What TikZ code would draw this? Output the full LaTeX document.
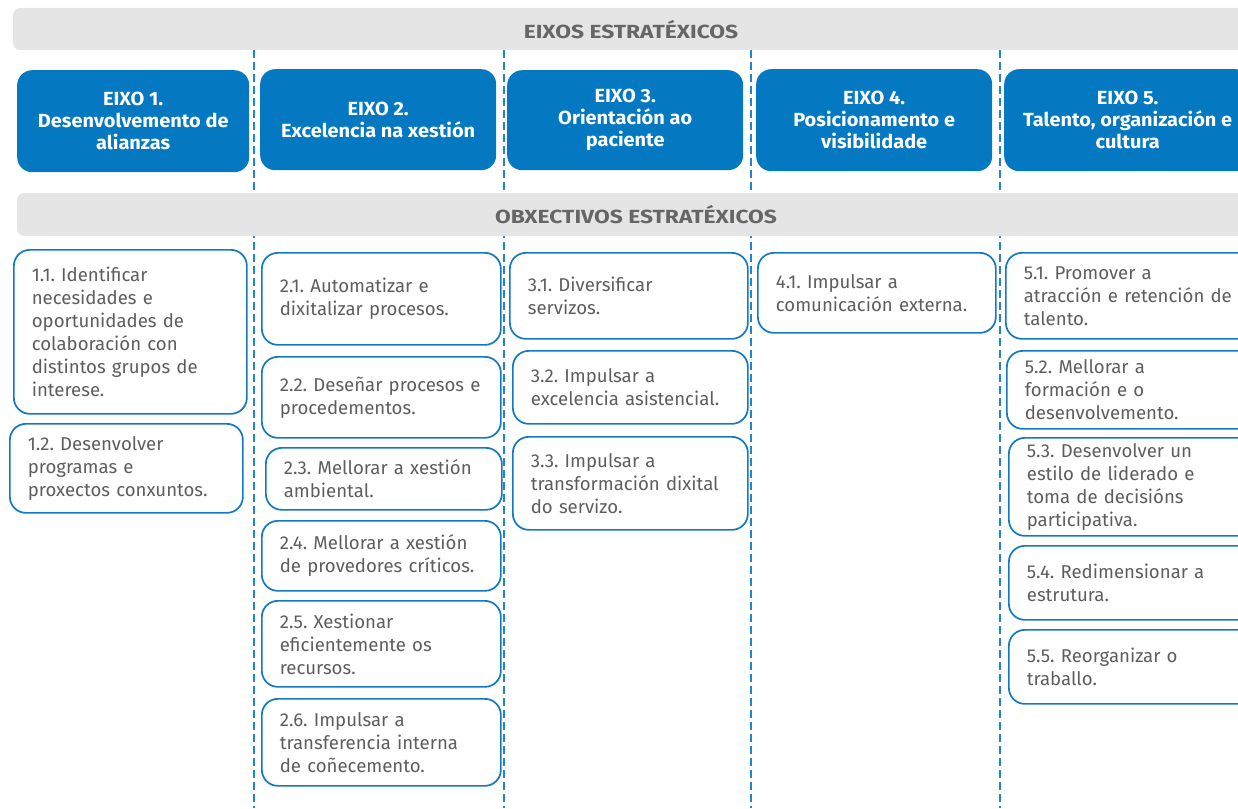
\documentclass[tikz,border=0pt]{standalone}
\usepackage{fontspec}
\setmainfont{Fira Sans}
\newfontfamily\headfont[FakeStretch=1.05]{Fira Sans}
\newfontfamily\barfont[FakeStretch=1.2]{Fira Sans}
\definecolor{bblue}{HTML}{1479C4}
\definecolor{hblue}{HTML}{0479C2}
\definecolor{tgray}{HTML}{5E5E5E}
\definecolor{hgray}{HTML}{666666}
\definecolor{bgray}{HTML}{E5E5E5}
\definecolor{dblue}{HTML}{2583CC}
\tikzset{
  obj/.style={draw=bblue, line width=1.7pt, rounded corners=16pt, fill=white,
    align=left, inner xsep=18pt, inner ysep=0pt, anchor=north west, text=tgray,
    font=\fontsize{18.6}{23}\selectfont},
  axisbox/.style={fill=hblue, rounded corners=15pt, align=center, text=white,
    anchor=north west, inner sep=0pt,
    font=\headfont\bfseries\fontsize{19}{22}\selectfont},
  bar/.style={fill=bgray, rounded corners=7pt, draw=none},
  bartext/.style={text=hgray, font=\barfont\bfseries\fontsize{19}{21}\selectfont},
  sepline/.style={draw=dblue, line width=1.6pt, dash pattern=on 8pt off 4pt}
}
\newcommand\objbox[6]{%
  \pgfmathsetmacro\bw{#4-#2}\pgfmathsetmacro\bh{#5-#3}\pgfmathsetmacro\tw{#4-#2-36}%
  \node[obj, minimum width=\bw pt, minimum height=\bh pt, text width=\tw pt] (#1) at (#2,#3) {#6};}
\newcommand\axbox[6]{%
  \pgfmathsetmacro\bw{#4-#2}\pgfmathsetmacro\bh{#5-#3}%
  \node[axisbox, minimum width=\bw pt, minimum height=\bh pt] (#1) at (#2,#3) {#6};}
\frenchspacing
\begin{document}
\begin{tikzpicture}[x=1pt,y=-1pt]
\useasboundingbox (0,0) rectangle (1238,808);
\clip (0,0) rectangle (1238,808);
% separators
\foreach \xx in {254,504,751,1000}{
  \draw[sepline] (\xx,50) -- (\xx,808);
}
% bars
\path[bar] (13,8) rectangle (1260,50);
\node[bartext] (t1) at (631,30) {EIXOS ESTRATÉXICOS};
\path[bar] (17,193) rectangle (1260,236);
\node[bartext] (t2) at (636,215) {OBXECTIVOS ESTRATÉXICOS};
% axes
\axbox{ax1}{17}{70}{249}{172}{EIXO 1.\\Desenvolvemento de\\alianzas}
\axbox{ax2}{260}{69}{496}{170}{EIXO 2.\\Excelencia na xestión}
\axbox{ax3}{507}{70}{743}{170}{EIXO 3.\\Orientación ao\\paciente}
\axbox{ax4}{756}{69}{992}{171}{\fontsize{19}{20}\selectfont EIXO 4.\\Posicionamento e\\visibilidade}
\axbox{ax5}{1004}{69}{1251}{171}{\fontsize{19}{20}\selectfont EIXO 5.\\Talento, organización e\\cultura}
% objectives col 1
\objbox{o11}{13}{249}{246}{413}{1.1. Identificar\\necesidades e\\oportunidades de\\colaboración con\\distintos grupos de\\interese.}
\objbox{o12}{9}{423}{242}{512}{1.2. Desenvolver\\programas e\\proxectos conxuntos.}
% col 2
\objbox{o21}{261}{252}{500}{344}{2.1. Automatizar e\\dixitalizar procesos.}
\objbox{o22}{261}{356}{500}{437}{2.2. Deseñar procesos e\\procedementos.}
\objbox{o23}{265}{447}{501}{509}{2.3. Mellorar a xestión\\ambiental.}
\objbox{o24}{261}{520}{500}{590}{2.4. Mellorar a xestión\\de provedores críticos.}
\objbox{o25}{261}{600}{500}{686}{2.5. Xestionar\\eficientemente os\\recursos.}
\objbox{o26}{261}{698}{500}{785}{2.6. Impulsar a\\transferencia interna\\de coñecemento.}
% col 3
\objbox{o31}{509}{252}{747}{338}{3.1. Diversificar\\servizos.}
\objbox{o32}{512}{350}{747}{423}{3.2. Impulsar a\\excelencia asistencial.}
\objbox{o33}{512}{436}{747}{529}{3.3. Impulsar a\\transformación dixital\\do servizo.}
% col 4
\objbox{o41}{757}{252}{995}{332}{4.1. Impulsar a\\comunicación externa.}
% col 5
\objbox{o51}{1005}{252}{1270}{338}{5.1. Promover a\\atracción e retención de\\talento.}
\objbox{o52}{1006}{350}{1270}{428}{5.2. Mellorar a\\formación e o\\desenvolvemento.}
\objbox{o53}{1008}{437}{1270}{535}{5.3. Desenvolver un\\estilo de liderado e\\toma de decisións\\participativa.}
\objbox{o54}{1008}{545}{1270}{619}{5.4. Redimensionar a\\estrutura.}
\objbox{o55}{1008}{629}{1270}{703}{5.5. Reorganizar o\\traballo.}
\end{tikzpicture}
\end{document}
